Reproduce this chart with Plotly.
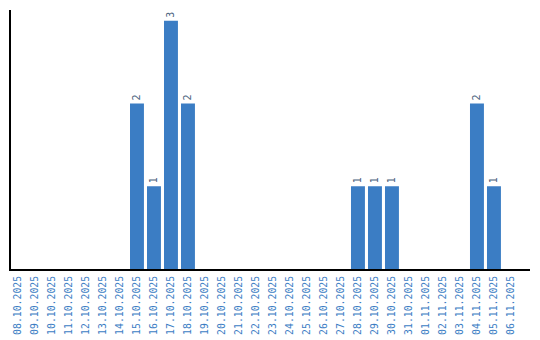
import plotly.graph_objects as go

dates = ["08.10.2025","09.10.2025","10.10.2025","11.10.2025","12.10.2025","13.10.2025",
         "14.10.2025","15.10.2025","16.10.2025","17.10.2025","18.10.2025","19.10.2025",
         "20.10.2025","21.10.2025","22.10.2025","23.10.2025","24.10.2025","25.10.2025",
         "26.10.2025","27.10.2025","28.10.2025","29.10.2025","30.10.2025","31.10.2025",
         "01.11.2025","02.11.2025","03.11.2025","04.11.2025","05.11.2025","06.11.2025"]
counts = [0,0,0,0,0,0,0,2,1,3,2,0,0,0,0,0,0,0,0,0,1,1,1,0,0,0,0,2,1,0]

labels = [str(v) if v else "" for v in counts]

fig = go.Figure(go.Bar(
    x=list(range(len(dates))), y=counts,
    marker=dict(color="#3b7dc4", line=dict(width=0)),
    text=labels, textposition="outside", textangle=-90,
    textfont=dict(family="DejaVu Sans Mono", size=10, color="#4a6380"),
    cliponaxis=False,
))

fig.update_layout(
    width=540, height=340,
    margin=dict(l=10.5, r=10, t=10, b=70.5),
    plot_bgcolor="white", paper_bgcolor="white",
    bargap=0.18, showlegend=False,
    xaxis=dict(tickmode="array", tickvals=list(range(len(dates))), ticktext=dates,
               tickangle=-90, range=[-0.41, 30.12], showline=True, linecolor="black",
               linewidth=2, showgrid=False, zeroline=False, ticks="",
               automargin=False, ticklabelstandoff=1,
               tickfont=dict(family="DejaVu Sans Mono", size=9.8, color="#3b7dc4")),
    yaxis=dict(range=[0, 3.13], showline=True, linecolor="black", linewidth=2,
               showgrid=False, zeroline=False, showticklabels=False, ticks=""),
)

fig.write_html("out.html")
